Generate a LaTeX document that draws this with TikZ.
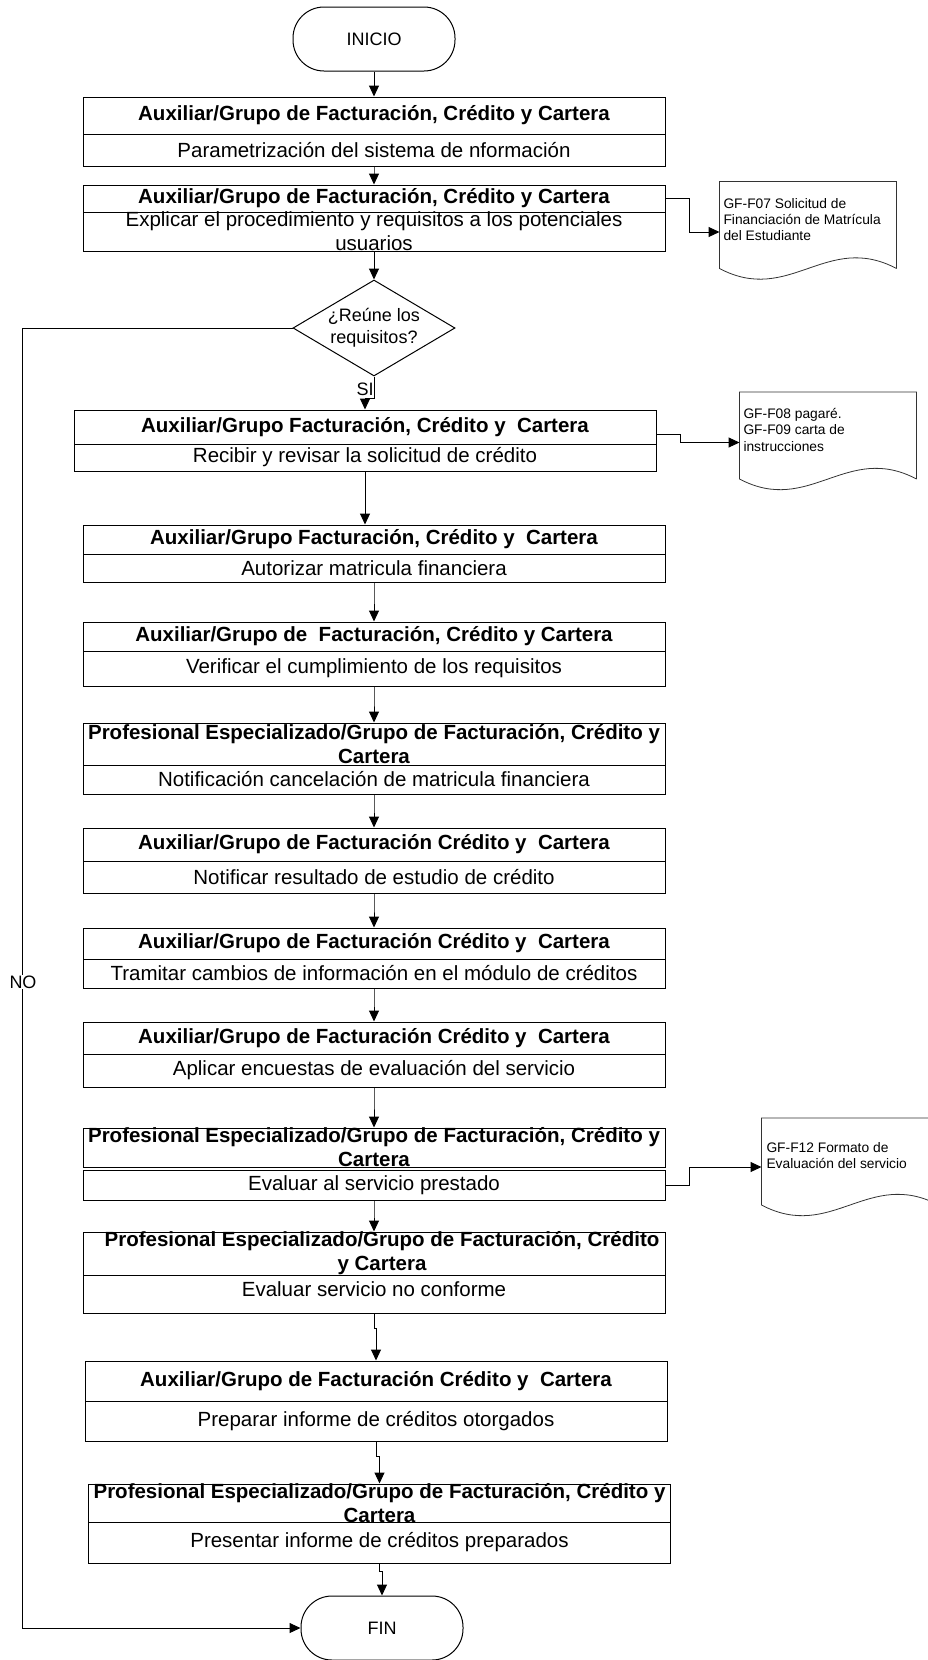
\documentclass[tikz,border=0pt]{standalone}
\usepackage{fontspec}
\setmainfont{Liberation Sans}
\usetikzlibrary{arrows.meta,shapes.geometric}

\tikzset{
  stepbox/.style={draw, line width=1pt, minimum width=582pt, inner sep=0pt},
  headtext/.style={font=\fontsize{20.5}{24}\selectfont\bfseries, align=center, inner sep=0pt},
  bodytext/.style={font=\fontsize{20.5}{24}\selectfont, align=center, inner sep=0pt},
  terminal/.style={draw, line width=1pt, rounded corners=31pt, minimum width=162pt,
    minimum height=64pt, font=\fontsize{18}{22}\selectfont},
  decision/.style={draw, line width=1pt, diamond, aspect=1.7, minimum width=162pt,
    minimum height=96pt, inner sep=0pt, align=center, font=\fontsize{18}{22}\selectfont},
  docbox/.style={minimum width=176pt, minimum height=86pt, inner sep=0pt},
  doctext/.style={anchor=north west, align=left, inner sep=0pt, font=\fontsize{13.8}{16.2}\selectfont},
  flowlabel/.style={inner sep=1pt, font=\fontsize{18}{22}\selectfont}
}

\begin{document}
\begin{tikzpicture}[x=1pt, y=-1pt, line width=1pt, >={Triangle[length=11pt,width=10pt]}]

\useasboundingbox (0,0) rectangle (928,1660);

\node [terminal] (inicio) at (374,39) {INICIO};
\node [decision] (reune) at (374,328) {¿Reúne los\\requisitos?};
\node [terminal] (fin) at (382,1628) {FIN};

% steps: header row and body row
\foreach \n/\cx/\ya/\yb/\yc/\yd/\dy/\hd/\bd in {
  1/374/97/134/134/166/0/{Auxiliar/Grupo de Facturación, Crédito y Cartera}/{Parametrización del sistema de nformación},
  2/374/185/212/212/251/0/{Auxiliar/Grupo de Facturación, Crédito y Cartera}/{Explicar el procedimiento y requisitos a los potenciales\\usuarios},
  3/365/410/444/444/471/0/{Auxiliar/Grupo Facturación, Crédito y~ Cartera}/{Recibir y revisar la solicitud de crédito},
  4/374/525/554/554/582/0/{Auxiliar/Grupo Facturación, Crédito y~ Cartera}/{Autorizar matricula financiera},
  5/374/622/651/651/686/0/{Auxiliar/Grupo de~ Facturación, Crédito y Cartera}/{Verificar el cumplimiento de los requisitos},
  6/374/723/765/765/794/0/{Profesional Especializado/Grupo de Facturación, Crédito y\\Cartera}/{Notificación cancelación de matricula financiera},
  7/374/828/861/861/893/0/{Auxiliar/Grupo de Facturación Crédito y~ Cartera}/{Notificar resultado de estudio de crédito},
  8/374/928/959/959/988/0/{Auxiliar/Grupo de Facturación Crédito y~ Cartera}/{Tramitar cambios de información en el módulo de créditos},
  9/374/1022/1054/1054/1087/0/{Auxiliar/Grupo de Facturación Crédito y~ Cartera}/{Aplicar encuestas de evaluación del servicio},
  10/374/1128/1167/1170/1200/0/{Profesional Especializado/Grupo de Facturación, Crédito y\\Cartera}/{Evaluar al servicio prestado},
  11/374/1232/1275/1275/1313/5/{\hspace*{16pt}Profesional Especializado/Grupo de Facturación, Crédito\\\hspace*{16pt}y Cartera}/{Evaluar servicio no conforme},
  12/376/1361/1401/1401/1441/0/{Auxiliar/Grupo de Facturación Crédito y~ Cartera}/{Preparar informe de créditos otorgados},
  13/379.5/1484/1522/1522/1563/0/{Profesional Especializado/Grupo de Facturación, Crédito y\\Cartera}/{Presentar informe de créditos preparados}}
{
  \node [stepbox, minimum height={(\yb-\ya)*1pt}] (h\n) at (\cx,{(\ya+\yb)/2}) {};
  \node [headtext] (ht\n) at (h\n.center) {\hd};
  \node [stepbox, minimum height={(\yd-\yc)*1pt}] (b\n) at (\cx,{(\yc+\yd)/2}) {};
  \node [bodytext] (bt\n) at ([yshift={\dy*1pt}]b\n.center) {\bd};
}

% documents
\node [docbox] (doc1) at (808,225) {};
\node [docbox] (doc2) at (828,435.5) {};
\node [docbox] (doc3) at (850,1161.5) {};

\foreach \d in {doc1,doc2,doc3}
  \draw [line width=0.8pt, black!80] (\d.south east) -- (\d.north east) -- (\d.north west)
    -- (\d.south west) .. controls +(70,37) and +(-70,-37) .. (\d.south east);

\node [doctext] (doc1-t) at (723,198) {GF-F07 Solicitud de\\Financiación de Matrícula\\del Estudiante};
\node [doctext] (doc2-t) at (743,408) {GF-F08 pagaré.\\GF-F09 carta de\\instrucciones};
\node [doctext] (doc3-t) at (766,1142) {GF-F12 Formato de\\Evaluación del servicio};

% main flow
\draw [->] (inicio) -- (h1);
\draw [->] (b2) -- (reune);
\draw [->] (reune.south) -- ++(0,22) -| (h3.north);
\draw [->] (b3.south) -- (b3.south |- h4.north);

\foreach \i/\j in {1/2,4/5,5/6,6/7,7/8,8/9,9/10,10/11,11/12,12/13}
  \draw [->] (b\i.south) -- ++(0,15) -| (h\j.north);

\draw [->] (b13.south) -- ++(0,8) -| (fin.north);

% to documents
\draw [->] (h2.east) -- ++(24,0) |- ([yshift=-7pt]doc1.west);
\draw [->] ([yshift=-7pt]h3.east) -- ++(24,0) |- ([yshift=-7pt]doc2.west);
\draw [->] (b10.east) -- ++(24,0) |- ([yshift=-5.5pt]doc3.west);

% no branch
\draw [->] (reune.west) -- ++(-270,0) |- (fin.west);

\node [flowlabel] (si) at (365,389) {SI};
\node [flowlabel, fill=white] (no) at (23,982) {NO};

\end{tikzpicture}
\end{document}
